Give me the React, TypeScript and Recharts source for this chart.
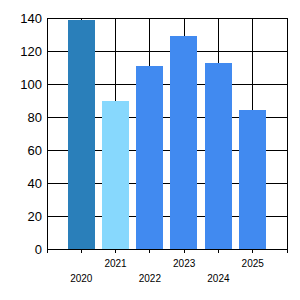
import React from 'react';
import { BarChart, Bar, XAxis, YAxis, CartesianGrid, Cell } from 'recharts';

const years = ['2020', '2021', '2022', '2023', '2024', '2025'];
const values = [139, 90, 111, 129, 113, 84];
const barColors = ['#2a7fba', '#87d8fd', '#418af0', '#418af0', '#418af0', '#418af0'];
const yTicks = [0, 20, 40, 60, 80, 100, 120, 140];
const xTicks = [0, 1, 2, 3, 4, 5, 6, 7];

const data = years.map((year, i) => ({ pos: i + 1, year, value: values[i] }));

const font = 'Liberation Sans, Arial, sans-serif';

function YearTick(props: any) {
  const { x, y, payload } = props;
  const idx = payload.value - 1;
  if (idx < 0 || idx >= years.length) return null;
  // labels alternate between two rows
  const dy = idx % 2 === 1 ? 12 : 27;
  return (
    <text x={x} y={y + dy} textAnchor="middle" fontSize={10} fontFamily={font} fill="#000">
      {years[idx]}
    </text>
  );
}

export default function App() {
  return (
    <div style={{ position: 'absolute', left: 0, top: 0, background: '#fff' }}>
      <style>{'.recharts-cartesian-grid line, .recharts-cartesian-axis line, .recharts-rectangle { shape-rendering: crispEdges; }'}</style>
      <BarChart
        width={300}
        height={300}
        data={data}
        margin={{ top: 18, right: 13, left: 0, bottom: 0 }}
        barCategoryGap="10%"
      >
        <CartesianGrid stroke="#000" strokeWidth={1} />
        <XAxis
          dataKey="pos"
          type="number"
          domain={[0, 7]}
          ticks={xTicks}
          interval={0}
          height={51}
          stroke="#000"
          tickSize={4}
          tickMargin={2}
          tick={<YearTick />}
        />
        <YAxis
          domain={[0, 140]}
          ticks={yTicks}
          interval={0}
          width={47}
          axisLine={{ stroke: '#000' }}
          tickLine={false}
          tickSize={3}
          tickMargin={2}
          tick={{ fontSize: 13, fontFamily: font, fill: '#000' }}
        />
        <Bar dataKey="value" isAnimationActive={false}>
          {data.map((d, i) => (
            <Cell key={d.year} fill={barColors[i]} />
          ))}
        </Bar>
      </BarChart>
    </div>
  );
}
